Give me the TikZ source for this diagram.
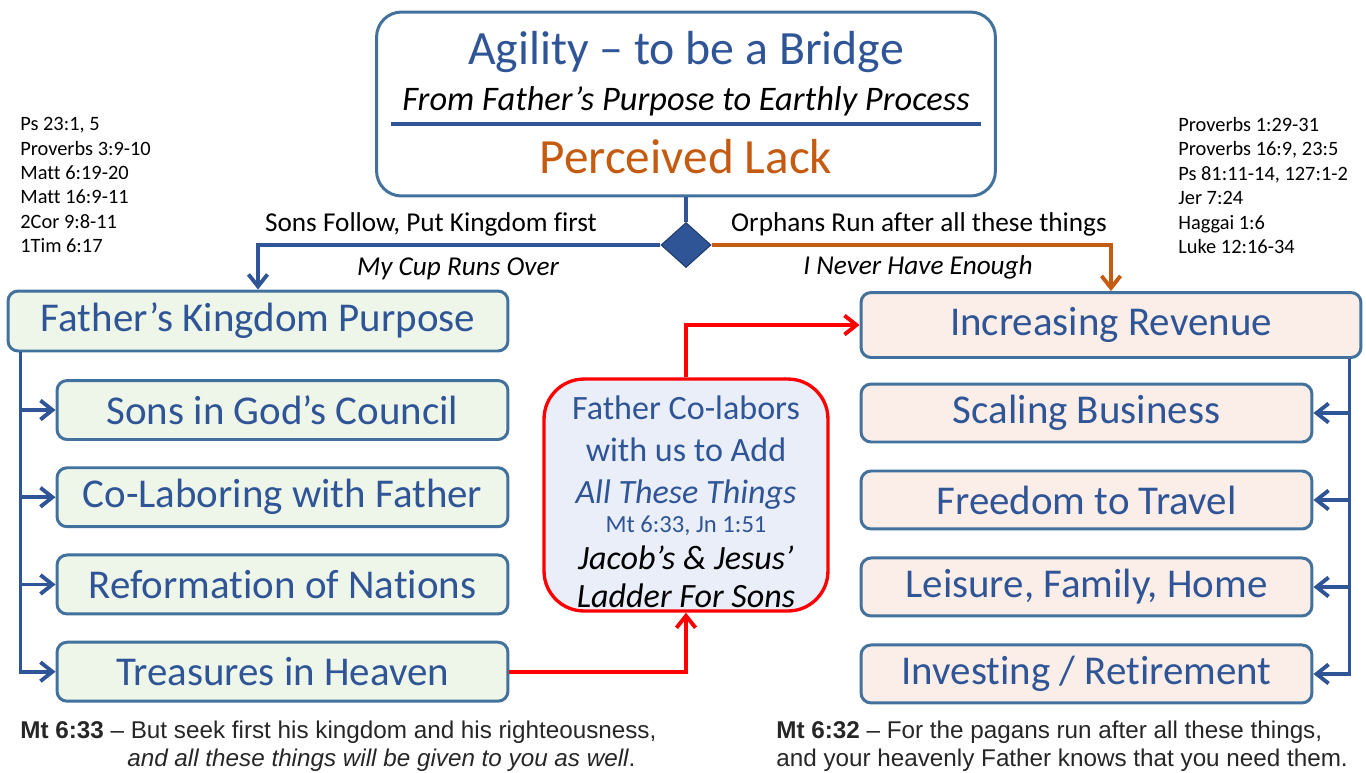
\documentclass[tikz,border=0pt]{standalone}
\usepackage{fontspec}
\setmainfont{Carlito}[Ligatures={TeX,NoCommon}]
\newfontfamily\versefont{Liberation Sans}[Ligatures=TeX]
\usepackage{xcolor}
\usetikzlibrary{positioning,arrows.meta,shapes.geometric}
\definecolor{boxline}{HTML}{41719C}
\definecolor{linkblue}{HTML}{2F5597}
\definecolor{lackorange}{HTML}{C55A11}
\definecolor{sonfill}{HTML}{EEF5E9}
\definecolor{orphanfill}{HTML}{FBEEE8}
\definecolor{ladderfill}{HTML}{E9EEF8}
\definecolor{versegray}{HTML}{262626}

\begin{document}
\begin{tikzpicture}[x=0.02cm,y=-0.02cm,>={Straight Barb[length=2.4mm,width=3.8mm]},
    box/.style={draw=boxline,line width=1.7pt,rounded corners=0.2cm,text=linkblue,
      font=\fontsize{23.3}{28}\selectfont,inner sep=0pt},
    sonbox/.style={box,fill=sonfill,minimum width=9.02cm,minimum height=1.18cm,on grid,node distance=1.745cm},
    orphanbox/.style={box,fill=orphanfill,minimum width=9.02cm,minimum height=1.16cm,on grid,node distance=1.74cm},
    wire/.style={draw=linkblue,line width=2.2pt},
    redwire/.style={draw=red,line width=2.2pt},
    label/.style={font=\fontsize{15.5}{18}\selectfont,inner sep=0pt},
    refs/.style={font=\fontsize{11.6}{13.9}\selectfont,align=left,inner sep=0pt,anchor=north west}]
  \useasboundingbox (0,0) rectangle (1366,772);

  % heading
  \node[draw=boxline,line width=1.7pt,rounded corners=0.5cm,minimum width=12.38cm,minimum height=3.68cm] (top) at (686,104) {};
  \node[text=linkblue,font=\fontsize{27.2}{32}\selectfont] (title) at (686,52) {Agility -- to be a Bridge};
  \node[font=\fontsize{19.6}{23}\selectfont\itshape] (sub) at (686,101) {From Father's Purpose to Earthly Process};
  \draw[draw=linkblue,line width=1.9pt] (391,124) -- (981,124);
  \node[text=lackorange,font=\fontsize{28}{34}\selectfont] (lack) at (686,157) {Perceived Lack};
  \node[diamond,fill=linkblue,draw=linkblue!70!black,line width=0.6pt,minimum width=1cm,minimum height=0.9cm,inner sep=0pt] (D) at (686,245) {};

  % references
  \node[refs] (psl) at (20,117) {Ps 23:1, 5\\Proverbs 3:9-10\\Matt 6:19-20\\Matt 16:9-11\\2Cor 9:8-11\\1Tim 6:17};
  \node[refs] (psr) at (1178,117) {Proverbs 1:29-31\\Proverbs 16:9, 23:5\\Ps 81:11-14, 127:1-2\\Jer 7:24\\Haggai 1:6\\Luke 12:16-34};

  % sons
  \node[box,fill=sonfill,minimum width=10cm,minimum height=1.2cm] (KP) at (258,321) {Father's Kingdom Purpose};
  \node[sonbox] (SC) at (282.5,410) {Sons in God's Council};
  \node[sonbox,below of=SC] (CL) {Co-Laboring with Father};
  \node[sonbox,below of=CL] (RN) {Reformation of Nations};
  \node[sonbox,below of=RN] (TH) {Treasures in Heaven};

  % orphans
  \node[box,fill=orphanfill,minimum width=10cm,minimum height=1.3cm] (IR) at (1111,325) {Increasing Revenue};
  \node[orphanbox] (SB) at (1086.5,413) {Scaling Business};
  \node[orphanbox,below of=SB] (FT) {Freedom to Travel};
  \node[orphanbox,below of=FT] (LF) {Leisure, Family, Home};
  \node[orphanbox,below of=LF] (IV) {Investing / Retirement};

  % ladder
  \node[draw=red,line width=1.9pt,fill=ladderfill,rounded corners=0.8cm,minimum width=5.68cm,minimum height=4.64cm] (LD) at (686,495) {};
  \node[text=linkblue,align=center,font=\fontsize{19.4}{23.3}\selectfont] (LDtext) at (686,502)
    {Father Co-labors\\[0.5pt]with us to Add\\[0.5pt]\textit{All These Things}\\[-6.5pt]
     {\fontsize{14}{17}\selectfont Mt 6:33, Jn 1:51}\\[-2.5pt]
     \textcolor{black}{\textit{Jacob's \& Jesus'}}\\[-1.5pt]\textcolor{black}{\textit{Ladder For Sons}}};

  % path labels
  \node[label] (sf) at (431,224) {Sons Follow, Put Kingdom first};
  \node[label,font=\fontsize{15.5}{18}\selectfont\itshape] (cup) at (458,269) {My Cup Runs Over};
  \node[label] (orph) at (919,224) {Orphans Run after all these things};
  \node[label,font=\fontsize{15.5}{18}\selectfont\itshape] (enough) at (918,267) {I Never Have Enough};

  % connectors
  \draw[wire] (top.south) -- (D.north);
  \draw[wire,->] (D.west) -| (KP.north);
  \draw[wire,draw=lackorange,->] (D.east) -| (IR.north);
  \foreach \n in {SC,CL,RN,TH}
    \draw[wire,->] ([xshift=0.28cm]KP.south west) |- (\n.west);
  \foreach \n in {SB,FT,LF,IV}
    \draw[wire,->] ([xshift=-0.26cm]IR.south east) |- (\n.east);
  \draw[redwire,->] (TH.east) -| (LD.south);
  \draw[redwire,->] (LD.north) |- (IR.west);

  % verses
  \node[anchor=west,align=left,inner sep=0pt,text=versegray,font=\versefont\fontsize{13.8}{16}\selectfont] (v33) at (20,746)
    {\textbf{Mt 6:33} -- But seek first his kingdom and his righteousness,\\
     \hspace*{2.14cm}\textit{and all these things will be given to you as well}.};
  \node[anchor=west,align=left,inner sep=0pt,text=versegray,font=\versefont\fontsize{13.8}{16}\selectfont] (v32) at (776,746)
    {\textbf{Mt 6:32} -- For the pagans run after all these things,\\
     and your heavenly Father knows that you need them.};
\end{tikzpicture}
\end{document}
